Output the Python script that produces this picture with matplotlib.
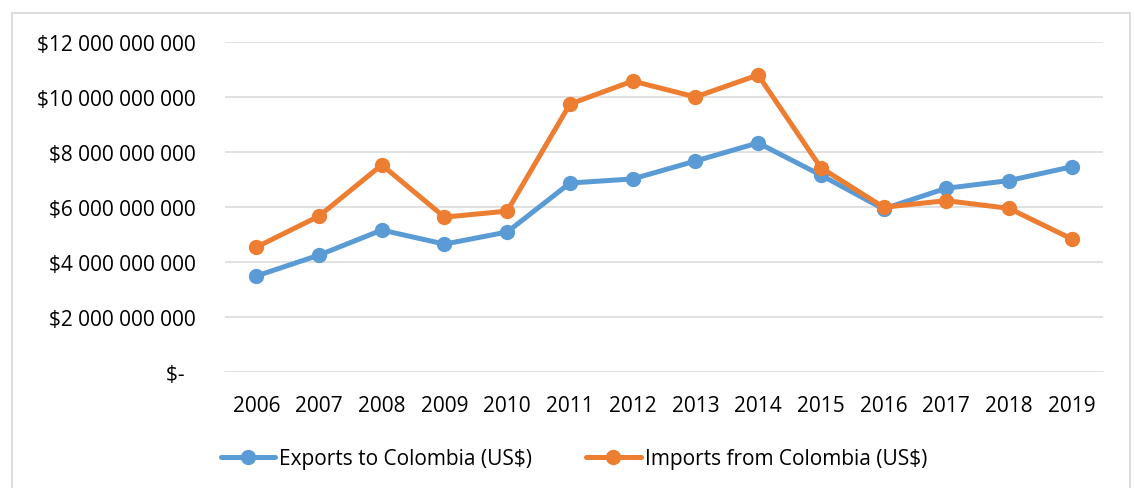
import matplotlib.pyplot as plt
from matplotlib.patches import Rectangle
from matplotlib.ticker import FuncFormatter

# data (US$ billions)
years = ['2006', '2007', '2008', '2009', '2010', '2011', '2012',
         '2013', '2014', '2015', '2016', '2017', '2018', '2019']
exports = [3.48, 4.24, 5.15, 4.64, 5.08, 6.86, 7.01, 7.66, 8.32, 7.15, 5.92, 6.67, 6.95, 7.45]
imports = [4.53, 5.66, 7.52, 5.62, 5.84, 9.73, 10.57, 9.99, 10.79, 7.42, 5.98, 6.22, 5.94, 4.83]
exports = [v * 1e9 for v in exports]
imports = [v * 1e9 for v in imports]

plt.rcParams['font.family'] = ['Open Sans', 'DejaVu Sans']

fig = plt.figure(figsize=(11.34, 4.89), dpi=100)
ax = fig.add_axes([225/1134, 1 - 372.7/489, (1103-225)/1134, (372.7-42.7)/489])

# chart area border
fig.patches.append(Rectangle((12/1134, -0.1), (1130-12)/1134, 1.1 - 14/489,
                             transform=fig.transFigure, fill=False,
                             edgecolor='#d9d9d9', linewidth=1.3))

x = list(range(len(years)))
ax.plot(x, exports, color='#5B9BD5', lw=3.6, marker='o', ms=10,
        label='Exports to Colombia (US$)', solid_capstyle='round')
ax.plot(x, imports, color='#ED7D31', lw=3.6, marker='o', ms=10,
        label='Imports from Colombia (US$)', solid_capstyle='round')

def fmt(v, pos):
    if v == 0:
        return '$-  '
    return '$' + f'{int(round(v)):,}'.replace(',', ' ')

ax.set_ylim(0, 12e9)
ax.set_yticks([0, 2e9, 4e9, 6e9, 8e9, 10e9, 12e9])
ax.yaxis.set_major_formatter(FuncFormatter(fmt))
ax.set_xlim(-0.5, len(years) - 0.5)
ax.set_xticks(x)
ax.set_xticklabels(years)
ax.grid(axis='y', color='#d9d9d9', lw=1.1)
ax.set_axisbelow(True)
for s in ax.spines.values():
    s.set_visible(False)
ax.tick_params(axis='y', length=0, pad=21, labelsize=15, colors='#000000')
ax.tick_params(axis='x', length=0, pad=17, labelsize=15, colors='#000000')

fig.legend(loc='center', bbox_to_anchor=(574/1134, 1 - 460/489), ncol=2,
           frameon=False, fontsize=15, handlelength=2.6, handletextpad=0.2,
           columnspacing=2.6)

fig.savefig('out.png', dpi=100)
